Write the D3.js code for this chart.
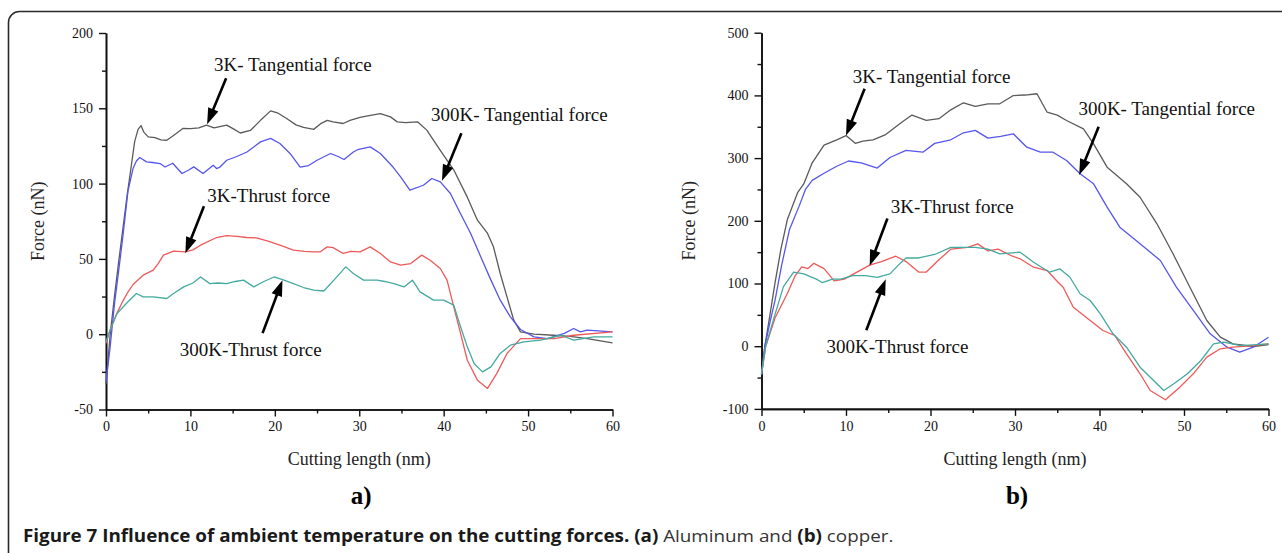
<!DOCTYPE html>
<html>
<head>
<meta charset="utf-8">
<script src="https://cdn.jsdelivr.net/npm/d3@7"></script>
<style>
  html, body { margin: 0; padding: 0; background: #fff; }
  svg { display: block; }
</style>
</head>
<body>
<svg id="chart" width="1282" height="553"></svg>
<script>
// ---------------- DATA ----------------
const xTicks = [0, 10, 20, 30, 40, 50, 60];
const yTicksA = [-50, 0, 50, 100, 150, 200];
const yTicksB = [-100, 0, 100, 200, 300, 400, 500];

// Panel a) Aluminum : [cutting length nm, force nN]
const alTan3K = [[0,-33],[0.5,0],[1,25],[1.5,48],[2,70],[2.5,92],[3,112],[3.4,128],[3.8,136],[4.15,138.5],[4.5,134],[5,131],[5.8,130.5],[6.5,129],[7.2,128.8],[8,132],[9.1,136.6],[10,136.5],[11,137],[11.9,138.8],[12.8,137],[14.3,138.8],[15.2,136],[15.9,133.6],[17.1,135.3],[18.3,142],[19.5,148.3],[20.3,147],[21.4,143.2],[22.5,139],[23.4,137.3],[24.6,136],[25.5,140],[26.2,142],[26.9,141],[28.1,139.9],[28.9,142],[30.1,144],[31,145],[32.5,146.5],[33.7,144.3],[34.5,141],[35.5,140.5],[36.9,141],[38,135.5],[39.6,122],[41.2,109],[42.8,91],[44,75.7],[45.2,66.9],[45.9,58],[46.7,40.3],[47.5,24.8],[48.3,9.3],[49.1,1.5],[50.7,0],[53,-0.7],[55,-1.5],[57,-2.9],[60,-5.8]];
const alTan300K = [[0,-32],[0.5,-8],[1,20],[1.5,42],[2,65],[2.6,95],[3.2,110],[3.6,115],[4,117.3],[4.8,114.4],[5.5,114],[6.4,113.3],[7,111],[7.9,113.5],[9,106.7],[9.8,109],[10.4,111.1],[11.5,106.7],[12.7,112.2],[13.1,110],[13.5,111],[14.3,115.5],[15.5,118],[16.7,121],[18.3,127.7],[19.5,130],[20.6,126.6],[21.8,120],[23,111],[24,112],[25,115.5],[26.6,120],[27.5,118],[28.2,116],[29.3,121],[29.8,122.5],[31.3,124.4],[32.5,120],[34,111],[34.9,104.5],[36,95.6],[37.6,98.9],[38.6,103.4],[39.6,101.1],[40.8,93.4],[42,80],[43.2,66.9],[44.4,51.3],[45.6,35.9],[46.7,22.6],[47.9,11.5],[49.1,3.1],[50.7,-1.8],[52.3,-2.9],[54.3,0.5],[55.4,3.8],[56.2,1.5],[57,2.7],[60,1.5]];
const alThr3K = [[0,-6],[0.5,3],[1.3,14],[2,22],[2.6,28],[3.2,33],[4.4,39.2],[5.6,42.5],[6.2,47],[6.8,52.5],[8,55.1],[9.4,54.6],[10.3,56],[11.2,59.1],[13.1,64.2],[14.3,65.5],[15.5,65],[16.7,64.2],[17.8,64],[19.1,62],[20.6,59.1],[22.2,55.8],[23.5,55],[24.6,54.7],[25.4,54.7],[26.2,58],[26.9,57.5],[28.1,53.6],[29,55],[30.1,54.7],[31.3,58],[32.5,53.6],[33.7,48],[34.9,45.8],[36.1,46.9],[37.4,52.5],[38.4,49.1],[39.6,43.6],[40.4,35.9],[41.2,18.1],[42,0.5],[42.8,-17.3],[44,-30.5],[45.2,-36],[46.3,-26],[47.5,-12.8],[49.1,-2.9],[50.7,-2.9],[53.1,-2.9],[55.4,-0.7],[60,1.5]];
const alThr300K = [[0,-5],[0.5,3],[1.3,13.7],[2.4,20.4],[3.6,27],[4.4,24.8],[5.6,24.8],[7.2,23.7],[8,27],[9.2,31.4],[10.3,34],[11.2,38],[12.3,33.6],[13.3,34],[14.3,33.6],[15.3,35],[16.3,35.9],[17.5,31.4],[18.7,35],[19.9,38],[21,36],[22.2,33.6],[23.4,31],[24.6,29.2],[25.8,28.7],[27,35.9],[28.4,44.7],[29.3,40.3],[30.5,35.9],[32.1,35.9],[33,35],[34.1,33.6],[35.3,31.4],[36.3,35.9],[37.2,28.1],[38.8,22.6],[40,22.6],[41.2,19.3],[42,4.9],[42.8,-8.4],[43.6,-19.5],[44.6,-25],[45.6,-21.7],[46.7,-12.8],[47.9,-7.3],[49.5,-5.1],[51.5,-4],[53.9,-0.7],[55.4,-4],[57.8,-1.8],[60,-1.8]];

// Panel b) Copper
const cuTan3K = [[0,-45],[0.4,0],[1,50],[1.6,101],[2.3,155],[3.07,202.5],[4.27,244.8],[5,258.8],[6,292.5],[7.4,320.7],[8.9,329.2],[10,335.9],[11.1,323.5],[12,327],[13.2,329.2],[14.7,337.6],[16.6,357.3],[17.8,368.6],[19.5,360],[21,362.9],[22.4,377],[23.9,388.2],[25.3,382.6],[26.8,386.5],[28.2,386.6],[29.8,399.8],[31.2,400.6],[32.6,402.6],[33.8,373.2],[35,368.6],[36.1,360],[38.1,346.7],[39.3,322.8],[40.9,285.5],[43.2,259],[44.8,237.6],[46.8,195.2],[48.7,147.4],[50.7,94.1],[52.7,41],[54.3,14.4],[55.8,3.8],[58.2,-0.5],[60,2.7]];
const cuTan300K = [[0,-45],[0.4,0],[1,38],[1.6,73.2],[2.4,130],[3.3,185.7],[4.5,225],[5.2,250],[6,264.5],[7.4,275.8],[8.9,287],[10.3,295.4],[11.8,292.5],[13.7,284.2],[15.2,301],[17.1,312.3],[19.1,309.4],[20.5,323.5],[22.4,329.2],[23.9,340.4],[25.3,344.3],[26.8,331.9],[28.3,334.8],[29.8,338.7],[31.4,317.4],[33,309.4],[34.5,309.4],[36.1,296.2],[37.7,275],[39.3,259],[40.9,221.7],[42.4,189.8],[44.8,163.3],[47.2,136.7],[49.1,94.1],[51.1,57],[53.1,19.8],[55.1,-1.6],[56.6,-9.6],[58.2,-1.6],[60,14.4]];
const cuThr3K = [[0,-45],[0.5,0],[1.6,45],[3.07,84.4],[4,112.6],[4.76,126.6],[5.5,123.8],[6.2,132.2],[7.4,123.8],[8.6,104.2],[9.8,106.9],[11.3,118.2],[12.8,129.3],[14.2,135],[15.9,143.5],[17.1,135],[18.6,118.2],[19.5,118.2],[21,137.8],[22.4,154.7],[24.4,157.6],[25.6,163.2],[26.8,152],[28,154.7],[29.7,143.5],[30.6,139.4],[32.2,126],[33.8,120.7],[34.9,104.8],[35.7,94.1],[36.9,62.2],[38.9,41],[40.4,25],[41.8,17.1],[43.2,-12.1],[44.8,-44],[46,-70.7],[47.8,-85.5],[49.5,-65.4],[51.1,-44],[52.7,-17.5],[54.3,-4.1],[55.8,-1.6],[58.2,1],[60,3.8]];
const cuThr300K = [[0,-45],[0.5,0],[1.6,50.7],[2.6,95],[3.8,118.2],[5,115.3],[6.5,106.9],[7.2,101.3],[8.4,106.9],[9.4,106.9],[10.8,112.6],[12.3,112.6],[13.7,109.7],[15.2,115.3],[16.2,129.3],[17.1,140.7],[18.6,140.7],[20.5,146.3],[22.4,157.6],[23.9,157.6],[25.3,157.6],[26.8,154.7],[28.2,147.4],[30.6,150],[32.2,134],[34.1,118],[35.3,123.4],[36.5,110],[37.7,83.6],[38.9,72.9],[40.1,51.7],[41.6,19.8],[43.2,-1.6],[44.8,-33.5],[46.4,-54.7],[47.6,-70.7],[48.8,-60],[50.4,-44],[52,-22.8],[53.5,3.8],[54.7,6.4],[56.7,1],[60,3.8]];

// Annotation labels: text anchor (tx,ty) and arrow tail/tip in data units
const labelsA = [
  {text: "3K- Tangential force",  tx: 12.8, ty: 178.6, x0: 14.23, y0: 170,  x1: 11.98, y1: 139.4},
  {text: "300K- Tangential force", tx: 38.5, ty: 145.7, x0: 42.1, y0: 133.5, x1: 39.8, y1: 101.9},
  {text: "3K-Thrust force",        tx: 12.0, ty: 91.8,  x0: 11.6, y0: 85,    x1: 9.4,  y1: 53.8},
  {text: "300K-Thrust force",      tx: 8.73, ty: -10.6, x0: 18.55, y0: 0.7,  x1: 20.9, y1: 35.9}
];
const labelsB = [
  {text: "3K- Tangential force",  tx: 10.8, ty: 430.5, x0: 12.2, y0: 410.7, x1: 10.0, y1: 335.9},
  {text: "300K- Tangential force", tx: 37.5, ty: 378.1, x0: 39.9, y0: 349.9, x1: 37.6, y1: 272.9},
  {text: "3K-Thrust force",        tx: 15.3, ty: 222.3, x0: 14.9, y0: 203.7, x1: 12.8, y1: 128.2},
  {text: "300K-Thrust force",      tx: 7.7,  ty: -1.6,  x0: 12.4, y0: 25.4,  x1: 14.7, y1: 106.9}
];

const xTitle = "Cutting length (nm)";
const yTitle = "Force (nN)";
const panelLabels = ["a)", "b)"];

// ---------------- STYLE ----------------
const colors = {tan3K: "#5a5a5a", tan300K: "#5656ec", thr3K: "#ee5a5a", thr300K: "#44aa9f"};
const serif = "'Liberation Serif', 'Times New Roman', serif";

const svg = d3.select("#chart");

// Frame
svg.append("rect")
  .attr("x", 8.5).attr("y", 11.5)
  .attr("width", 1400).attr("height", 700)
  .attr("rx", 11).attr("ry", 11)
  .attr("fill", "none").attr("stroke", "#2a2a2a").attr("stroke-width", 1.6);

function drawPanel(cfg) {
  const g = svg.append("g");
  const x = d3.scaleLinear().domain([0, 60]).range(cfg.xRange);
  const y = d3.scaleLinear().domain(cfg.yDomain).range(cfg.yRange);

  const xMinor = d3.range(0, 61, 5).filter(v => v % 10 !== 0);
  const yMinor = d3.range(cfg.yDomain[0], cfg.yDomain[1] + 1, cfg.yStep / 2).filter(v => !cfg.yTicks.includes(v));

  const fmt = d => String(d);

  g.append("g").attr("transform", `translate(0,${cfg.yRange[0]})`)
    .call(d3.axisBottom(x).tickValues(xTicks).tickFormat(fmt).tickSize(7).tickSizeOuter(0).tickPadding(5));
  g.append("g").attr("transform", `translate(0,${cfg.yRange[0]})`)
    .call(d3.axisBottom(x).tickValues(xMinor).tickFormat("").tickSize(4).tickSizeOuter(0));
  g.append("g").attr("transform", `translate(${cfg.xRange[0]},0)`)
    .call(d3.axisLeft(y).tickValues(cfg.yTicks).tickFormat(fmt).tickSize(7).tickSizeOuter(0).tickPadding(6));
  g.append("g").attr("transform", `translate(${cfg.xRange[0]},0)`)
    .call(d3.axisLeft(y).tickValues(yMinor).tickFormat("").tickSize(4).tickSizeOuter(0));

  g.selectAll(".domain").attr("stroke", "#111").attr("stroke-width", 1.6);
  g.selectAll(".tick line").attr("stroke", "#111").attr("stroke-width", 1.4);
  g.selectAll(".tick text").attr("font-family", serif).attr("font-size", 14).attr("fill", "#111");

  const line = d3.line().x(d => x(d[0])).y(d => y(d[1])).curve(d3.curveLinear);
  cfg.series.forEach(s => {
    g.append("path").datum(s.data)
      .attr("d", line).attr("fill", "none")
      .attr("stroke", s.color).attr("stroke-width", 1.3)
      .attr("stroke-linejoin", "round");
  });

  cfg.labels.forEach(l => {
    g.append("text")
      .attr("x", x(l.tx)).attr("y", y(l.ty)).attr("dy", "0.33em")
      .attr("font-family", serif).attr("font-size", 19).attr("fill", "#111")
      .text(l.text);
    const px0 = x(l.x0), py0 = y(l.y0), px1 = x(l.x1), py1 = y(l.y1);
    const dx = px1 - px0, dy = py1 - py0, len = Math.hypot(dx, dy);
    const ux = dx / len, uy = dy / len;
    const L = 16, W = 5.5;
    const bx = px1 - ux * L, by = py1 - uy * L;
    g.append("line").attr("x1", px0).attr("y1", py0).attr("x2", bx + ux * 2).attr("y2", by + uy * 2)
      .attr("stroke", "#000").attr("stroke-width", 2.6);
    g.append("polygon")
      .attr("points", [[px1, py1], [bx - uy * W, by + ux * W], [bx + uy * W, by - ux * W]].map(p => p.join(",")).join(" "))
      .attr("fill", "#000");
  });

  const cx = (cfg.xRange[0] + cfg.xRange[1]) / 2;
  g.append("text").attr("x", cx).attr("y", 465).attr("text-anchor", "middle")
    .attr("font-family", serif).attr("font-size", 18).attr("fill", "#222").text(xTitle);
  const cy = (cfg.yRange[0] + cfg.yRange[1]) / 2;
  g.append("text").attr("transform", `translate(${cfg.yTitleX},${cy}) rotate(-90)`)
    .attr("text-anchor", "middle")
    .attr("font-family", serif).attr("font-size", 18).attr("fill", "#222").text(yTitle);
  g.append("text").attr("x", cx + 2).attr("y", 504).attr("text-anchor", "middle")
    .attr("font-family", serif).attr("font-size", 25).attr("font-weight", "bold").attr("fill", "#000")
    .text(cfg.panel);
}

drawPanel({
  xRange: [106, 612.5], yDomain: [-50, 200], yRange: [409.5, 33], yTicks: yTicksA, yStep: 50,
  yTitleX: 44, panel: panelLabels[0], labels: labelsA,
  series: [
    {data: alTan3K, color: colors.tan3K},
    {data: alTan300K, color: colors.tan300K},
    {data: alThr3K, color: colors.thr3K},
    {data: alThr300K, color: colors.thr300K}
  ]
});
drawPanel({
  xRange: [761.5, 1268.5], yDomain: [-100, 500], yRange: [408.9, 32.7], yTicks: yTicksB, yStep: 100,
  yTitleX: 695, panel: panelLabels[1], labels: labelsB,
  series: [
    {data: cuTan3K, color: colors.tan3K},
    {data: cuTan300K, color: colors.tan300K},
    {data: cuThr3K, color: colors.thr3K},
    {data: cuThr300K, color: colors.thr300K}
  ]
});

// Caption
const cap = svg.append("g");
const capText = cap.append("text").attr("x", 0).attr("y", 0)
  .attr("font-family", "'Open Sans', 'Noto Sans', sans-serif").attr("font-size", 17).attr("fill", "#333");
capText.append("tspan").attr("font-weight", "bold").attr("fill", "#1a1a1a").text("Figure 7 Influence of ambient temperature on the cutting forces.");
capText.append("tspan").attr("font-weight", "bold").attr("fill", "#1a1a1a").text(" (a)");
capText.append("tspan").text(" Aluminum and ");
capText.append("tspan").attr("font-weight", "bold").attr("fill", "#1a1a1a").text("(b)");
capText.append("tspan").text(" copper.");
const capW = capText.node().getComputedTextLength();
const targetW = 894 - 23;
cap.attr("transform", `translate(23,542) scale(${targetW / capW},1)`);
</script>
</body>
</html>
